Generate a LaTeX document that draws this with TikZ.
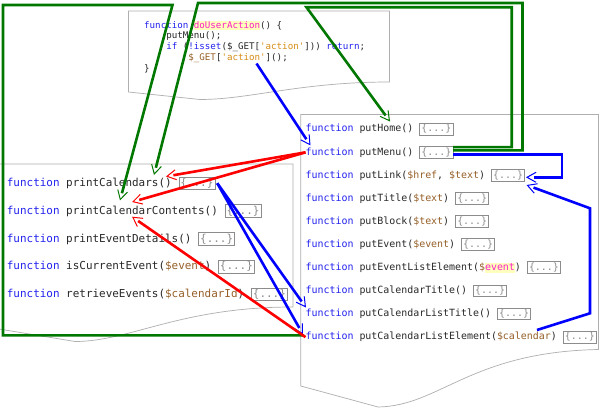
\documentclass[tikz,border=0pt]{standalone}
\usepackage{fontspec}
\newfontfamily\codefont{DejaVu Sans Mono}
\usetikzlibrary{arrows.meta,decorations.markings}
\definecolor{kwc}{RGB}{34,34,238}
\definecolor{txc}{RGB}{40,40,40}
\definecolor{varc}{RGB}{150,95,40}
\definecolor{strc}{RGB}{214,140,20}
\definecolor{magc}{RGB}{255,30,200}
\definecolor{hlc}{RGB}{255,255,190}
\definecolor{boxc}{RGB}{140,140,140}
\definecolor{docc}{RGB}{175,175,175}
\definecolor{grc}{RGB}{0,120,0}
\definecolor{rdc}{RGB}{255,0,0}
\definecolor{blc}{RGB}{0,0,255}
\newcommand\kw[1]{\textcolor{kwc}{#1}}
\newcommand\vr[1]{\textcolor{varc}{#1}}
\newcommand\st[1]{\textcolor{strc}{#1}}
\newcommand\hlt[1]{{\setlength{\fboxsep}{0pt}\colorbox{hlc}{\rule[-0.22em]{0pt}{1em}\textcolor{magc}{#1}}}}
\newcommand\qq{\textquotesingle}
\begin{document}
\begin{tikzpicture}[x=1pt,y=-1pt,
  doc/.style={draw=docc, line width=0.7pt, fill=white},
  tfn/.style={anchor=base west, inner sep=0pt, text=txc, font=\codefont\fontsize{9.17pt}{11pt}\selectfont},
  lfn/.style={anchor=base west, inner sep=0pt, text=txc, font=\codefont\fontsize{10.95pt}{13pt}\selectfont},
  rfn/.style={anchor=base west, inner sep=0pt, text=txc, font=\codefont\fontsize{9.93pt}{12pt}\selectfont},
  bx/.style={anchor=base west, draw=boxc, text=boxc, line width=0.6pt, inner xsep=1.6pt, inner ysep=1.3pt, fill=white},
  lbx/.style={bx, font=\codefont\fontsize{10.95pt}{13pt}\selectfont},
  rbx/.style={bx, font=\codefont\fontsize{9.93pt}{12pt}\selectfont},
  conn/.style={line width=2.6pt, shorten >=7.5pt, postaction={decorate},
    decoration={markings, mark=at position 1 with {\arrow{Straight Barb[length=9pt,width=10pt,line width=1pt]}}}},
  gconn/.style={conn, color=grc},
  bconn/.style={conn, color=blc},
  rconn/.style={conn, color=rdc}]
\useasboundingbox (0,0) rectangle (600,409);
\fill[white] (0,0) rectangle (600,409);

% documents
\draw[doc] (128.5,92) -- (128.5,11) -- (389.5,11) -- (389.5,82) .. controls (300,82) and (250,99.5) .. (200,99.5) -- cycle;
\draw[doc] (-1,329) -- (-1,164) -- (293,164) -- (293,307) .. controls (180,307) and (130,341.5) .. (75,341.5) -- cycle;
\draw[doc] (300.8,386) -- (300.8,114.6) -- (598.5,114.6) -- (598.5,349.5) .. controls (470,352) and (440,406) .. (378,407) -- cycle;

% top document code
\node[tfn] (t1) at (144,28.3) {\kw{function} \hlt{doUserAction}() \{};
\node[tfn] (t2) at (166.1,39) {putMenu();};
\node[tfn] (t3) at (166.1,49.7) {\kw{if} (\kw{!isset}(\$\_GET[\st{\qq{}action\qq{}}])) \kw{return};};
\node[tfn] (t4) at (188.2,60.4) {\vr{\$\_GET}[\st{\qq{}action\qq{}}]();};
\node[tfn] (t5) at (144,71.1) {\}};

% left document
\node[lfn] (l1) at (6.7,186.5) {\kw{function} printCalendars()};
\node[lfn] (l2) at (6.7,214.3) {\kw{function} printCalendarContents()};
\node[lfn] (l3) at (6.7,242.1) {\kw{function} printEventDetails()};
\node[lfn] (l4) at (6.7,269.9) {\kw{function} isCurrentEvent(\vr{\$event})};
\node[lfn] (l5) at (6.7,297.7) {\kw{function} retrieveEvents(\vr{\$calendarId})};
\foreach \n in {1,...,5} {\node[lbx] (l\n b) at ([xshift=6.59pt]l\n.base east) {\{...\}};}

% right document
\node[rfn] (r1) at (305.5,132) {\kw{function} putHome()};
\node[rfn] (r2) at (305.5,155.1) {\kw{function} putMenu()};
\node[rfn] (r3) at (305.5,178.2) {\kw{function} putLink(\vr{\$href}, \vr{\$text})};
\node[rfn] (r4) at (305.5,201.3) {\kw{function} putTitle(\vr{\$text})};
\node[rfn] (r5) at (305.5,224.4) {\kw{function} putBlock(\vr{\$text})};
\node[rfn] (r6) at (305.5,247.5) {\kw{function} putEvent(\vr{\$event})};
\node[rfn] (r7) at (305.5,270.6) {\kw{function} putEventListElement(\vr{\$}\hlt{event})};
\node[rfn] (r8) at (305.5,293.7) {\kw{function} putCalendarTitle()};
\node[rfn] (r9) at (305.5,316.8) {\kw{function} putCalendarListTitle()};
\node[rfn] (r10) at (305.5,339.9) {\kw{function} putCalendarListElement(\vr{\$calendar})};
\foreach \n in {1,...,10} {\node[rbx] (r\n b) at ([xshift=5.98pt]r\n.base east) {\{...\}};}

% connector end points
\coordinate (g1t) at (120,200.5);
\coordinate (g2t) at (154,175);
\coordinate (g3t) at (390,121.5);
\coordinate (b1s) at (256.5,63.5);
\coordinate (b1t) at (310.5,145.5);
\coordinate (b2t) at (526,177.3);
\coordinate (b3s) at (537,330);
\coordinate (b3t) at (526.5,185);
\coordinate (b4t) at (306,307.5);
\coordinate (b5t) at (303,334.5);
\coordinate (r1t) at (166,176.5);
\coordinate (r2t) at (132,202);
\coordinate (r3t) at (132,216.7);

% green
\draw[gconn] ([xshift=-1.5pt,yshift=4.5pt]r10.base west) -| (3,5) -- (172.5,5) -- (g1t);
\draw[gconn] ([yshift=1.7pt]r2b.east) -| (522.5,3) -- (198,3) -- (g2t);
\draw[gconn] ([yshift=5pt]r2b.east) -| (511.7,7.3) -- (306.5,7.3) -- (g3t);

% blue
\draw[bconn] (b1s) -- (b1t);
\draw[bconn] ([yshift=-2.5pt]r2b.east) -| (561.8,177.3) -- (b2t);
\draw[bconn] (b3s) -- (590,313.3) -- (590,208.3) -- (b3t);
\draw[bconn] ([xshift=2pt]l1b.east) -- (b4t);
\draw[bconn] ([xshift=2pt]l1b.east) -- (b5t);

% red
\draw[rconn] (r2.west) -- (r1t);
\draw[rconn] (r2.west) -- (r2t);
\draw[rconn] (r10.west) -- (r3t);
\end{tikzpicture}
\end{document}
